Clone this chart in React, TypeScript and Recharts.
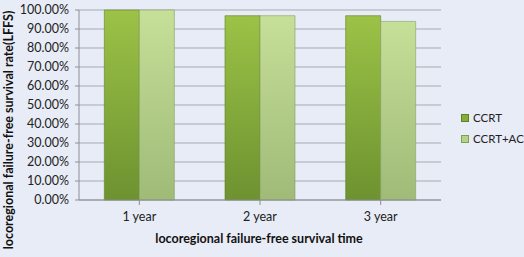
import React from "react";
import { BarChart, Bar, XAxis, YAxis, CartesianGrid } from "recharts";

const categories = ["1 year", "2 year", "3 year"];
const ccrt = [1.0, 0.97, 0.97];
const ccrtAc = [1.0, 0.97, 0.94];
const yTicks = [0, 0.1, 0.2, 0.3, 0.4, 0.5, 0.6, 0.7, 0.8, 0.9, 1.0];
const xTitle = "locoregional failure-free survival time";
const yTitle = "locoregional failure-free survival rate(LFFS)";

const data = categories.map((c, i) => ({ name: c, CCRT: ccrt[i], "CCRT+AC": ccrtAc[i] }));

const FONT = "Lato, 'Open Sans', sans-serif";

const legendItems = [
  { label: "CCRT", color: "#86AD3C", border: "#5E8224" },
  { label: "CCRT+AC", color: "#B5D286", border: "#7F9E5A" },
];

const XTitle = () => (
  <text x={259} y={243} textAnchor="middle" fontFamily={FONT} fontSize={12.5} fontWeight={700} fill="#111">
    {xTitle}
  </text>
);

const YTitle = () => (
  <text
    x={0}
    y={0}
    transform="translate(13,130) rotate(-90)"
    textAnchor="middle"
    fontFamily={FONT}
    fontSize={12.5}
    fontWeight={700}
    fill="#111"
  >
    {yTitle}
  </text>
);

export default function App() {
  return (
    <div style={{ position: "absolute", left: 0, top: 0, width: 524, height: 257, background: "#E8ECF6" }}>
      <BarChart
        width={524}
        height={257}
        data={data}
        margin={{ top: 10, right: 83, bottom: 0, left: 0 }}
        barCategoryGap="21%"
        barGap={0}
      >
        <defs>
          <linearGradient id="gA" x1="0" y1="0" x2="0" y2="1">
            <stop offset="0%" stopColor="#9CC247" />
            <stop offset="100%" stopColor="#6D9230" />
          </linearGradient>
          <linearGradient id="gB" x1="0" y1="0" x2="0" y2="1">
            <stop offset="0%" stopColor="#C6DF99" />
            <stop offset="100%" stopColor="#9FBB77" />
          </linearGradient>
        </defs>
        <CartesianGrid vertical={false} stroke="#A6A9AE" strokeWidth={1} />
        <XAxis
          dataKey="name"
          height={57}
          axisLine={{ stroke: "#8C8F94" }}
          tickLine={{ stroke: "#8C8F94" }}
          tick={{ fontFamily: FONT, fontSize: 12.5, fill: "#222" }}
          tickSize={5}
          tickMargin={7}
          label={<XTitle />}
        />
        <YAxis
          width={79}
          domain={[0, 1]}
          ticks={yTicks}
          interval={0}
          tickFormatter={(v: number) => (v * 100).toFixed(2) + "%"}
          axisLine={{ stroke: "#8C8F94" }}
          tickLine={{ stroke: "#8C8F94" }}
          tickSize={4}
          tickMargin={6}
          tick={{ fontFamily: FONT, fontSize: 12.5, fill: "#222" }}
          label={<YTitle />}
        />
        <Bar dataKey="CCRT" fill="url(#gA)" stroke="#5E8224" strokeWidth={0.6} isAnimationActive={false} />
        <Bar dataKey="CCRT+AC" fill="url(#gB)" stroke="#849F60" strokeWidth={0.6} isAnimationActive={false} />
      </BarChart>
      <div
        style={{
          position: "absolute",
          left: 461,
          top: 107,
          fontFamily: FONT,
          fontSize: 11.5,
          color: "#222",
          whiteSpace: "nowrap",
        }}
      >
        {legendItems.map((it) => (
          <div key={it.label} style={{ display: "flex", alignItems: "center", height: 21 }}>
            <span
              style={{
                display: "inline-block",
                width: 6,
                height: 6,
                background: it.color,
                border: `1px solid ${it.border}`,
                marginRight: 4,
              }}
            />
            {it.label}
          </div>
        ))}
      </div>
    </div>
  );
}
